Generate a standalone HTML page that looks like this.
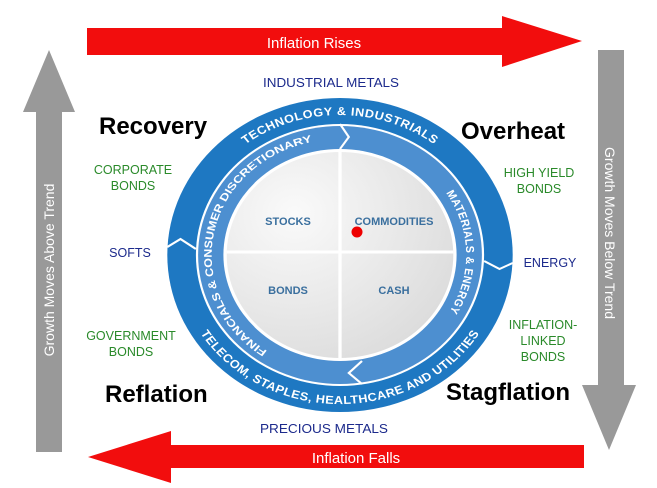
<!DOCTYPE html>
<html><head><meta charset="utf-8"><style>
html,body{margin:0;padding:0;background:#fff;}
svg{display:block;}
text{font-family:"Liberation Sans",Arial,sans-serif;}
</style></head><body>
<svg width="657" height="488" viewBox="0 0 657 488" xmlns="http://www.w3.org/2000/svg">
<rect width="657" height="488" fill="#fff"/>
<polygon points="87,28 502,28 502,16 582,41 502,67 502,55 87,55" fill="#f20d0d"/>
<text x="314" y="48" font-size="15" fill="#fff" text-anchor="middle">Inflation Rises</text>
<polygon points="584,445 171,445 171,431 88,457 171,483 171,468 584,468" fill="#f20d0d"/>
<text x="356" y="463" font-size="15" fill="#fff" text-anchor="middle">Inflation Falls</text>
<polygon points="36,452 36,112 23,112 49,50 75,112 62,112 62,452" fill="#999"/>
<text transform="translate(54,270) rotate(-90)" font-size="14" fill="#fff" text-anchor="middle">Growth Moves Above Trend</text>
<polygon points="598,50 624,50 624,385 636,385 609,450 582,385 598,385" fill="#999"/>
<text transform="translate(605,233) rotate(90)" font-size="14" fill="#fff" text-anchor="middle">Growth  Moves Below Trend</text>

<g transform="translate(340,255) scale(1.1,1)">
<defs>
<path id="tp" d="M -140,0 A 140,140 0 0 1 140,0"/>
<path id="bp" d="M -146,0 A 146,146 0 0 0 146,0"/>
<path id="lp" d="M -66,96 A 116,116 0 0 1 20,-114"/>
<path id="rp" d="M 50,-103 A 114,114 0 0 1 55,100"/>
<radialGradient id="g" cx="0.3" cy="0.3" r="0.9"><stop offset="0" stop-color="#fafafa"/><stop offset="1" stop-color="#d8d8d8"/></radialGradient>
</defs>
<circle r="157" fill="#1e78c2"/>
<circle r="131" fill="#fff"/>
<circle r="129" fill="#4d8fd0"/>
<circle r="106" fill="#fff"/>
<circle r="103" fill="url(#g)"/>
<line x1="0" y1="-103" x2="0" y2="103" stroke="#fff" stroke-width="3"/>
<line x1="-103" y1="-3" x2="103" y2="-3" stroke="#fff" stroke-width="3"/>
<polyline points="0,-131 8,-118 0,-106" fill="none" stroke="#fff" stroke-width="2"/>
<polyline points="-157,-8 -145,-16 -131,-6" fill="none" stroke="#fff" stroke-width="2"/>
<polyline points="157,8 145,14 131,6" fill="none" stroke="#fff" stroke-width="2"/>
<polyline points="20,129 8,118 20,106" fill="none" stroke="#fff" stroke-width="2"/>
<text font-size="11.5" font-weight="bold" fill="#fff" letter-spacing="0.5"><textPath href="#tp" startOffset="50%" text-anchor="middle">TECHNOLOGY &amp; INDUSTRIALS</textPath></text>
<text font-size="11.5" font-weight="bold" fill="#fff" letter-spacing="0.3"><textPath href="#bp" startOffset="50%" text-anchor="middle" dominant-baseline="middle">TELECOM, STAPLES, HEALTHCARE AND UTILITIES</textPath></text>
<text font-size="10" font-weight="bold" fill="#fff"><textPath href="#lp" startOffset="0" textLength="270" lengthAdjust="spacingAndGlyphs">FINANCIALS &amp; CONSUMER DISCRETIONARY</textPath></text>
<text font-size="10.5" font-weight="bold" fill="#fff" letter-spacing="0.4"><textPath href="#rp" startOffset="50%" text-anchor="middle">MATERIALS &amp; ENERGY</textPath></text>
</g>
<g font-size="11" font-weight="bold" fill="#3a6f9e" text-anchor="middle">
<text x="288" y="225">STOCKS</text>
<text x="394" y="225">COMMODITIES</text>
<text x="288" y="294">BONDS</text>
<text x="394" y="294">CASH</text>
</g>
<circle cx="357" cy="232" r="5.5" fill="#e00"/>

<g font-size="12.5" text-anchor="middle">
<text x="331" y="87" fill="#1c2a8c" textLength="136" lengthAdjust="spacingAndGlyphs">INDUSTRIAL METALS</text>
<text x="324" y="433" fill="#1c2a8c" textLength="128" lengthAdjust="spacingAndGlyphs">PRECIOUS METALS</text>
<text x="130" y="257" fill="#1c2a8c">SOFTS</text>
<text x="550" y="267" fill="#1c2a8c">ENERGY</text>
<g fill="#2a8a2a">
<text x="133" y="174">CORPORATE</text><text x="133" y="190">BONDS</text>
<text x="131" y="340">GOVERNMENT</text><text x="131" y="356">BONDS</text>
<text x="539" y="177">HIGH YIELD</text><text x="539" y="193">BONDS</text>
<text x="543" y="329">INFLATION-</text><text x="543" y="345">LINKED</text><text x="543" y="361">BONDS</text>
</g>
</g>
<g font-size="24" font-weight="bold" fill="#000">
<text x="99" y="134">Recovery</text>
<text x="461" y="139">Overheat</text>
<text x="105" y="402">Reflation</text>
<text x="446" y="400">Stagflation</text>
</g>
</svg>
</body></html>
